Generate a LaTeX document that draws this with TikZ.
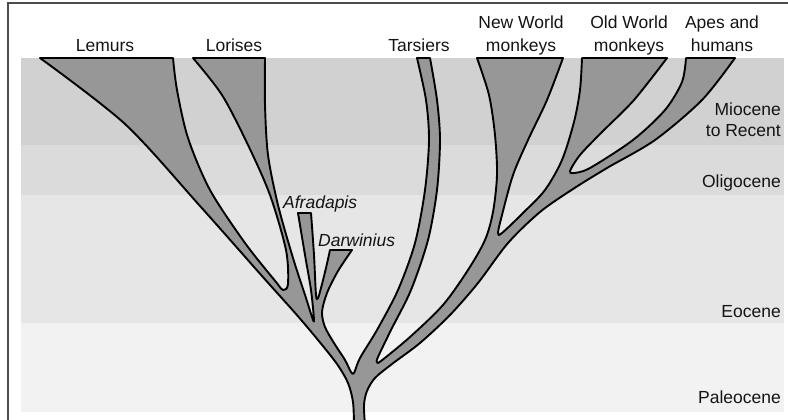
\documentclass[tikz,border=0pt]{standalone}
\usepackage{fontspec}
\setmainfont{Liberation Sans}
\usetikzlibrary{positioning}
\definecolor{ink}{HTML}{141414}
\definecolor{limb}{HTML}{979797}
\definecolor{miocene}{HTML}{D1D1D1}
\definecolor{oligocene}{HTML}{DBDBDB}
\definecolor{eocene}{HTML}{E6E6E6}
\definecolor{paleocene}{HTML}{F2F2F2}
\tikzstyle{taxon} = [anchor=base, inner sep=0pt, text=ink, font=\fontsize{17.5}{21}\selectfont]
\tikzstyle{epoch} = [anchor=base east, inner sep=0pt, text=ink, font=\fontsize{17.5}{21}\selectfont]
\tikzstyle{fossil} = [anchor=base west, inner sep=0pt, text=ink, font=\fontsize{17.5}{21}\selectfont\itshape]
\tikzstyle{branch} = [fill=limb, draw=black, line width=1.9pt, line join=round]
\tikzstyle{frame} = [draw=black!70, line width=1.8pt]

\begin{document}
\begin{tikzpicture}[x=1pt,y=-1pt]
		\useasboundingbox (0,0) rectangle (788,420);

		% frame
		\draw[frame] (8.3,420) -- (8.3,3.3) -- (788,3.3);

		% epoch bands
		\fill[miocene] (21,58) rectangle (784,145);
		\fill[oligocene] (21,145) rectangle (784,195);
		\fill[eocene] (21,195) rectangle (784,323);
		\fill[paleocene] (21,323) rectangle (784,412);

		% the tree, one outline round all branches
		\begin{scope}
		\clip (0,0) rectangle (788,420);
		\draw[branch]
			% lemur outer edge
			plot[smooth] coordinates {(354,425) (353,402) (348,383) (337,364) (318,340) (296,314) (262,276) (200,206) (125,124) (40,58)}
			-- (173,58)
			% lemurs / lorises
			-- plot[smooth] coordinates {(173,58) (177,90) (188,138) (210,190) (245,243) (276,282) (283,290) (288,284) (286,250) (270,195) (248,145) (222,95) (193,58)}
			-- (265,58)
			% lorises / afradapis
			-- plot[smooth] coordinates {(265,58) (265,105) (268,155) (278,205) (293,258) (306,298) (312,317) (314,320) (311,290) (305,255) (298,213)}
			-- (311,213)
			% afradapis / darwinius
			-- plot[smooth] coordinates {(311,213) (314,255) (316,295) (318,298) (321,288) (326,268) (330,250)}
			-- (352,250)
			% darwinius / tarsiers
			-- plot[smooth] coordinates {(352,250) (338,271) (327,293) (322,312) (325,327) (334,343) (345,360) (351,372) (354,373) (360,358) (377,330) (398,290) (415,243) (425,190) (429,140) (426,100) (417,58)}
			-- (430,58)
			% tarsiers / new world monkeys
			-- plot[smooth] coordinates {(430,58) (437,100) (440,140) (437,190) (428,240) (411,290) (391,330) (378,357) (377,362) (381,361) (410,337) (443,305) (468,270) (485,240) (493,212) (497,175) (495,135) (489,95) (477,58)}
			-- (563,58)
			% new world / old world monkeys
			-- plot[smooth] coordinates {(563,58) (547,100) (528,140) (513,175) (502,215) (498,233) (502,233) (523,213) (545,190) (562,160) (574,122) (580,90) (582,58)}
			-- (667,58)
			% old world monkeys / apes
			-- plot[smooth] coordinates {(667,58) (634,100) (601,133) (580,155) (570,171) (574,173) (590,168) (633,140) (665,110) (682,82) (686,58)}
			-- (735,58)
			% apes outer edge down to the root
			-- plot[smooth] coordinates {(735,58) (702,100) (655,140) (607,168) (573,189) (540,212) (508,243) (478,283) (450,315) (420,343) (392,364) (375,378) (367,391) (364,405) (365,425)}
			-- cycle;
		\end{scope}

		% living groups
		\node[taxon] (lemurs) at (105,52) {Lemurs};
		\node[taxon] (lorises) at (234,52) {Lorises};
		\node[taxon] (tarsiers) at (419,52) {Tarsiers};
		\node[taxon] (newworld) at (521,52) {monkeys};
		\node[taxon] (newworldtop) at (521,29) {New World};
		\node[taxon] (oldworld) at (629,52) {monkeys};
		\node[taxon] (oldworldtop) at (629,29) {Old World};
		\node[taxon] (apes) at (722,52) {humans};
		\node[taxon] (apestop) at (722,29) {Apes and};

		% fossils
		\node[fossil] (afradapis) at (283,208) {Afradapis};
		\node[fossil] (darwinius) at (318,246) {Darwinius};

		% epochs
		\node[epoch] (miocene) at (781,115) {Miocene};
		\node[epoch] (recent) at (781,136) {to Recent};
		\node[epoch] (oligocene) at (781,187) {Oligocene};
		\node[epoch] (eocene) at (781,317) {Eocene};
		\node[epoch] (paleocene) at (781,403) {Paleocene};
	\end{tikzpicture}
\end{document}
